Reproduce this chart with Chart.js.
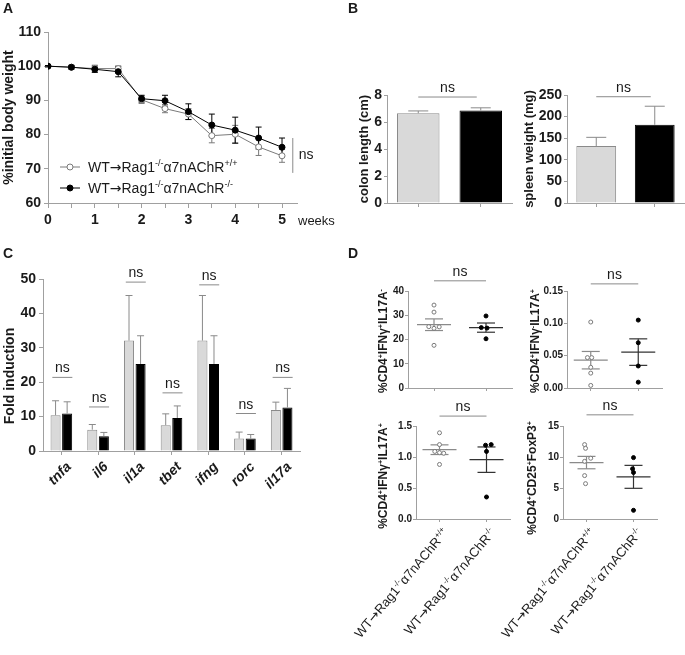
<!DOCTYPE html>
<html>
<head>
<meta charset="utf-8">
<title>Body weight, colon, gene expression and T cell subsets</title>
<script src="https://cdn.jsdelivr.net/npm/chart.js@4.4.1/dist/chart.umd.min.js"></script>
<style>
  body { margin: 0; background: #fff; }
  #fig { position: relative; width: 685px; height: 655px; overflow: hidden; }
  #fig canvas { position: absolute; left: 0; top: 0; }
</style>
</head>
<body>
<div id="fig"></div>
<script>
const W = 685, H = 655;
const FONT = "'Liberation Sans', Arial, Helvetica, sans-serif";
const ARROW_FONT = "'DejaVu Sans', sans-serif";
const INK = '#1a1a1a', AXIS = '#a0a0a0', MID = '#8a8a8a', LIGHT = '#d9d9d9';

// groups (^{..} = superscript)
const groupLabels = ['WT→Rag1^{-/-}α7nAChR^{+/+}', 'WT→Rag1^{-/-}α7nAChR^{-/-}'];

// A: body weight over time
const weeks = [0, 0.5, 1, 1.5, 2, 2.5, 3, 3.5, 4, 4.5, 5];
const weightWT = [100, 99.7, 99.3, 99.3, 90.2, 87.6, 86.0, 79.7, 80.1, 76.4, 73.8];
const weightWTErr = [0.2, 0.6, 1.0, 0.8, 1.1, 1.2, 1.6, 2.1, 2.6, 2.5, 1.9];
const weightKO = [100, 99.7, 99.1, 98.4, 90.5, 89.9, 86.7, 82.8, 81.3, 79.0, 76.3];
const weightKOErr = [0.2, 0.5, 0.9, 1.5, 1.0, 1.6, 2.3, 3.2, 3.8, 3.2, 2.7];
const weightNs = [5.23, 79.0, 68.8]; // week, top, bottom of the bracket

// B: colon length / spleen weight
const colonLength = [6.65, 6.85];
const colonErr = [0.17, 0.2];
const spleenWeight = [132, 181];
const spleenErr = [20, 43];

// C: qPCR fold induction
const genes = ['tnfa', 'il6', 'il1a', 'tbet', 'ifng', 'rorc', 'il17a'];
const foldWT = [10.4, 6.2, 32.1, 7.5, 32.1, 3.6, 11.95];
const foldWTErr = [4.2, 1.5, 13.1, 3.3, 13.1, 1.9, 2.25];
const foldKO = [10.9, 4.3, 25.3, 9.6, 25.3, 3.6, 12.65];
const foldKOErr = [3.4, 1.1, 8.2, 3.5, 8.2, 1.2, 5.55];
const foldNs = [21.4, 12.8, 49.1, 16.9, 48.3, 10.9, 21.4];

// D: flow cytometry, individual mice (x = group position incl. jitter)
const dTitles = ['%CD4^{+}IFNγ^{+}IL17A^{-}', '%CD4^{+}IFNγ^{-}IL17A^{+}',
                 '%CD4^{+}IFNγ^{+}IL17A^{+}', '%CD4^{+}CD25^{+}FoxP3^{+}'];
const th1WT = [34.2, 31.3, 25.3, 25.2, 24.6, 17.6];
const th1WTx = [1, 1, 0.9, 1.1, 1, 1];
const th1KO = [29.7, 24.9, 24.7, 20.3];
const th1KOx = [2, 1.91, 2.02, 2];
const th1Mean = [26.1, 24.9], th1Sem = [2.4, 1.9];

const th17WT = [0.102, 0.047, 0.047, 0.032, 0.023, 0.004];
const th17WTx = [1, 0.93, 1.02, 1, 1, 1];
const th17KO = [0.105, 0.070, 0.034, 0.009];
const th17KOx = [2, 2, 2, 2];
const th17Mean = [0.043, 0.0555], th17Sem = [0.0135, 0.0205];

const th1_17WT = [1.39, 1.20, 1.09, 1.07, 1.06, 0.88];
const th1_17WTx = [1, 1, 0.9, 1, 1.09, 1];
const th1_17KO = [1.19, 1.20, 1.09, 0.355];
const th1_17KOx = [1.98, 2.1, 2, 2];
const th1_17Mean = [1.118, 0.957], th1_17Sem = [0.078, 0.205];

const tregWT = [12.0, 11.4, 9.8, 9.3, 7.0, 5.7];
const tregWTx = [0.96, 0.98, 1.09, 0.96, 0.96, 0.98];
const tregKO = [9.9, 8.1, 7.5, 1.4];
const tregKOx = [2, 1.98, 2, 2];
const tregMean = [9.1, 6.8], tregSem = [1.0, 1.85];

// ---------- helpers ----------
// draws text with ^{...} superscripts; arrows use a font with a full-size glyph
function rich(ctx, str, x, y, o) {
  o = Object.assign({ size: 13, weight: 'normal', style: 'normal', align: 'left', rot: 0, color: INK, mid: false }, o);
  const parts = [];
  str.split(/(\^\{[^}]*\})/).filter(Boolean).forEach(p => {
    if (p.startsWith('^{')) { parts.push([p.slice(2, -1), true, false]); return; }
    p.split(/(→)/).filter(Boolean).forEach(q => parts.push([q, false, q === '→']));
  });
  const font = (sup, arrow) => `${o.style} ${o.weight} ${sup ? Math.round(o.size * 0.62) : o.size}px ${arrow ? ARROW_FONT : FONT}`;
  ctx.save();
  ctx.translate(x, y);
  ctx.rotate(o.rot);
  let w = 0;
  parts.forEach(([t, s, a]) => { ctx.font = font(s, a); w += ctx.measureText(t).width; });
  let cx = o.align === 'center' ? -w / 2 : o.align === 'right' ? -w : 0;
  const by = o.mid ? o.size * 0.36 : 0;
  ctx.fillStyle = o.color;
  ctx.textAlign = 'left';
  ctx.textBaseline = 'alphabetic';
  parts.forEach(([t, s, a]) => {
    ctx.font = font(s, a);
    ctx.fillText(t, cx, by - (s ? o.size * 0.4 : 0));
    cx += ctx.measureText(t).width;
  });
  ctx.restore();
}

function seg(ctx, x1, y1, x2, y2, color, w) {
  ctx.save();
  ctx.strokeStyle = color;
  ctx.lineWidth = w || 1;
  ctx.beginPath();
  ctx.moveTo(x1, y1);
  ctx.lineTo(x2, y2);
  ctx.stroke();
  ctx.restore();
}

function ns(ctx, x1, x2, y) {
  seg(ctx, x1, y, x2, y, MID, 1);
  rich(ctx, 'ns', (x1 + x2) / 2, y - 5, { size: 14, align: 'center' });
}

function grid(len) {
  return { display: true, drawOnChartArea: false, drawTicks: true, tickLength: len, color: AXIS, lineWidth: 1, offset: false };
}
const border = { display: true, color: AXIS, width: 1 };
function tickFont(size) { return { family: FONT, size: size, weight: 'bold' }; }

function addChart(box, yW, xH, cfg) {
  const cv = document.createElement('canvas');
  cv.width = W; cv.height = H;
  document.getElementById('fig').appendChild(cv);
  const o = cfg.options;
  o.responsive = false;
  o.animation = false;
  o.devicePixelRatio = 1;
  o.layout = { padding: { left: box[0] - yW, top: box[1], right: W - box[2], bottom: H - box[3] - xH } };
  o.scales.x.afterFit = s => { s.height = xH; };
  o.scales.y.afterFit = s => { s.width = yW; };
  o.plugins = Object.assign({ legend: { display: false }, tooltip: { enabled: false } }, o.plugins || {});
  return new Chart(cv, cfg);
}

function barErrors(errs, cap) {
  return {
    id: 'barErrors',
    afterDatasetsDraw(chart) {
      const ctx = chart.ctx, y = chart.scales.y;
      errs.forEach((e, di) => {
        chart.getDatasetMeta(di).data.forEach((bar, i) => {
          const top = y.getPixelForValue(chart.data.datasets[di].data[i] + e[i]);
          seg(ctx, bar.x, bar.y, bar.x, top, MID, 1);
          seg(ctx, bar.x - cap, top, bar.x + cap, top, MID, 1);
        });
      });
    }
  };
}

function weightTicks(v) { return Number.isInteger(v) ? String(v) : ''; }

// ---------- A ----------
addChart([48, 32, 297, 203], 40, 30, {
  type: 'line',
  data: {
    datasets: [
      { data: weeks.map((w, i) => ({ x: w, y: weightKO[i] })), borderColor: '#000', borderWidth: 1,
        pointRadius: 3, pointBackgroundColor: '#000', pointBorderColor: '#000', pointBorderWidth: 1 },
      { data: weeks.map((w, i) => ({ x: w, y: weightWT[i] })), borderColor: '#7a7a7a', borderWidth: 1,
        pointRadius: 3, pointBackgroundColor: '#fff', pointBorderColor: '#7a7a7a', pointBorderWidth: 1 }
    ]
  },
  options: {
    scales: {
      x: { type: 'linear', min: 0, max: 5.32, grid: grid(5), border: border,
           ticks: { stepSize: 0.5, includeBounds: false, autoSkip: false, maxRotation: 0, padding: 4,
                    font: tickFont(14), color: INK, callback: v => weightTicks(v) } },
      y: { min: 60, max: 110, grid: grid(4), border: border,
           ticks: { stepSize: 10, padding: 3, font: tickFont(14), color: INK } }
    }
  },
  plugins: [{
    id: 'panelA',
    beforeDatasetsDraw(chart) {
      const { ctx, scales: { x, y } } = chart;
      [[weightWT, weightWTErr, '#7a7a7a'], [weightKO, weightKOErr, '#000']].forEach(([v, e, c]) => {
        weeks.forEach((w, i) => {
          const px = x.getPixelForValue(w);
          const hi = y.getPixelForValue(v[i] + e[i]), lo = y.getPixelForValue(v[i] - e[i]);
          seg(ctx, px, hi, px, lo, c, 1);
          seg(ctx, px - 3, hi, px + 3, hi, c, 1);
          seg(ctx, px - 3, lo, px + 3, lo, c, 1);
        });
      });
    },
    afterDraw(chart) {
      const { ctx, scales: { x, y }, chartArea: a } = chart;
      rich(ctx, 'A', 3, 13, { size: 14, weight: 'bold' });
      rich(ctx, '%initial body weight', 8, (a.top + a.bottom) / 2,
           { size: 14, weight: 'bold', align: 'center', rot: -Math.PI / 2, mid: true });
      rich(ctx, 'weeks', a.right + 1, a.bottom + 22, { size: 13 });
      // legend
      [[167, '#fff', '#7a7a7a'], [188, '#000', '#000']].forEach(([ly, fill, stroke], i) => {
        seg(ctx, 60, ly, 80, ly, stroke, 1);
        ctx.save();
        ctx.beginPath();
        ctx.arc(70, ly, 3, 0, Math.PI * 2);
        ctx.fillStyle = fill; ctx.fill();
        ctx.strokeStyle = stroke; ctx.stroke();
        ctx.restore();
        rich(ctx, groupLabels[i], 88, ly, { size: 14, mid: true });
      });
      // ns bracket
      const bx = x.getPixelForValue(weightNs[0]);
      const t = y.getPixelForValue(weightNs[1]), b = y.getPixelForValue(weightNs[2]);
      seg(ctx, bx, t, bx, b, MID, 1);
      rich(ctx, 'ns', bx + 6, (t + b) / 2 + 4, { size: 14 });
    }
  }]
});

// ---------- B ----------
function panelB(box, values, errs, yMax, yStep, title, titleX, nsVal, letter) {
  addChart(box, 30, 14, {
    type: 'bar',
    data: {
      labels: groupLabels,
      datasets: [{ data: values, backgroundColor: [LIGHT, '#000'], borderColor: [MID, '#000'], borderWidth: 1,
                   barPercentage: 0.68, categoryPercentage: 1 }]
    },
    options: {
      scales: {
        x: { grid: grid(4), border: border, ticks: { display: false } },
        y: { min: 0, max: yMax, grid: grid(3), border: border,
             ticks: { stepSize: yStep, padding: 2, font: tickFont(14), color: INK } }
      }
    },
    plugins: [barErrors([errs], 10), {
      id: 'panelB',
      afterDraw(chart) {
        const { ctx, scales: { x, y }, chartArea: a } = chart;
        if (letter) rich(ctx, letter, 348, 13, { size: 14, weight: 'bold' });
        rich(ctx, title, titleX, (a.top + a.bottom) / 2,
             { size: 13, weight: 'bold', align: 'center', rot: -Math.PI / 2, mid: true });
        ns(ctx, x.getPixelForValue(0), x.getPixelForValue(1) - 4, y.getPixelForValue(nsVal));
      }
    }]
  });
}
panelB([387, 95, 512, 203], colonLength, colonErr, 8, 2, 'colon length (cm)', 363, 7.85, 'B');
panelB([567, 95, 684, 203], spleenWeight, spleenErr, 250, 50, 'spleen weight (mg)', 528, 246, null);

// ---------- C ----------
addChart([43, 279, 300, 451], 30, 40, {
  type: 'bar',
  data: {
    labels: genes,
    datasets: [
      { data: foldWT, backgroundColor: LIGHT, borderColor: MID, borderWidth: 1, barPercentage: 0.87, categoryPercentage: 0.63 },
      { data: foldKO, backgroundColor: '#000', borderColor: '#000', borderWidth: 1, barPercentage: 0.87, categoryPercentage: 0.63 }
    ]
  },
  options: {
    scales: {
      x: { grid: grid(4), border: border, ticks: { display: false } },
      y: { min: 0, max: 50, grid: grid(4), border: border,
           ticks: { stepSize: 10, padding: 3, font: tickFont(14), color: INK } }
    }
  },
  plugins: [barErrors([foldWTErr, foldKOErr], 3.5), {
    id: 'panelC',
    afterDraw(chart) {
      const { ctx, scales: { x, y }, chartArea: a } = chart;
      rich(ctx, 'C', 3, 258, { size: 14, weight: 'bold' });
      rich(ctx, 'Fold induction', 9, 376, { size: 14, weight: 'bold', align: 'center', rot: -Math.PI / 2, mid: true });
      genes.forEach((g, i) => {
        const cx = x.getPixelForValue(i);
        rich(ctx, g, cx + 7, a.bottom + 13, { size: 14, weight: 'bold', style: 'italic', align: 'right', rot: -Math.PI / 4, mid: true });
        ns(ctx, cx - 9, cx + 11, y.getPixelForValue(foldNs[i]));
      });
    }
  }]
});

// ---------- D ----------
function panelD(box, yW, title, titleXY, wt, wtx, ko, kox, mean, sem, yMax, yStep, dec, nsVal, withLabels, letter) {
  addChart(box, yW, 20, {
    type: 'scatter',
    data: {
      datasets: [
        { data: ko.map((v, i) => ({ x: kox[i], y: v })), pointRadius: 2, pointBackgroundColor: '#000',
          pointBorderColor: '#000', pointBorderWidth: 1 },
        { data: wt.map((v, i) => ({ x: wtx[i], y: v })), pointRadius: 2, pointBackgroundColor: '#fff',
          pointBorderColor: '#7a7a7a', pointBorderWidth: 1 }
      ]
    },
    options: {
      scales: {
        x: { type: 'linear', min: 0.5, max: 2.5, grid: grid(3), border: border, ticks: { display: false },
             afterBuildTicks: s => { s.ticks = [{ value: 1 }, { value: 2 }]; } },
        y: { min: 0, max: yMax, grid: grid(3), border: border,
             ticks: { stepSize: yStep, padding: 1, font: tickFont(10), color: INK, callback: v => v.toFixed(dec) } }
      }
    },
    plugins: [{
      id: 'panelD',
      beforeDatasetsDraw(chart) {
        const { ctx, scales: { x, y } } = chart;
        [[1, '#8a8a8a'], [2, '#333']].forEach(([g, c], k) => {
          const cx = x.getPixelForValue(g);
          const m = y.getPixelForValue(mean[k]);
          const hi = y.getPixelForValue(mean[k] + sem[k]), lo = y.getPixelForValue(mean[k] - sem[k]);
          seg(ctx, cx - 17, m, cx + 17, m, c, 1.2);
          seg(ctx, cx, hi, cx, lo, c, 1.2);
          seg(ctx, cx - 9, hi, cx + 9, hi, c, 1.2);
          seg(ctx, cx - 9, lo, cx + 9, lo, c, 1.2);
        });
      },
      afterDraw(chart) {
        const { ctx, scales: { x, y }, chartArea: a } = chart;
        if (letter) rich(ctx, letter, 348, 258, { size: 14, weight: 'bold' });
        rich(ctx, title, titleXY[0], titleXY[1], { size: 12, weight: 'bold', align: 'center', rot: -Math.PI / 2, mid: true });
        ns(ctx, x.getPixelForValue(1), x.getPixelForValue(2), y.getPixelForValue(nsVal));
        if (withLabels) {
          groupLabels.forEach((lab, i) => {
            rich(ctx, lab, x.getPixelForValue(i + 1) + 6, a.bottom + 11,
                 { size: 13, align: 'right', rot: -50 * Math.PI / 180, mid: true });
          });
        }
      }
    }]
  });
}
panelD([408, 291, 512, 388], 24, dTitles[0], [383, 341], th1WT, th1WTx, th1KO, th1KOx, th1Mean, th1Sem, 40, 10, 0, 44.2, false, 'D');
panelD([567, 291, 662, 388], 30, dTitles[1], [535, 341], th17WT, th17WTx, th17KO, th17KOx, th17Mean, th17Sem, 0.15, 0.05, 2, 0.161, false, null);
panelD([416, 426, 510, 519], 24, dTitles[2], [383, 476], th1_17WT, th1_17WTx, th1_17KO, th1_17KOx, th1_17Mean, th1_17Sem, 1.5, 0.5, 1, 1.66, true, null);
panelD([563, 426, 657, 519], 24, dTitles[3], [532, 478], tregWT, tregWTx, tregKO, tregKOx, tregMean, tregSem, 15, 5, 0, 16.8, true, null);
</script>
</body>
</html>
